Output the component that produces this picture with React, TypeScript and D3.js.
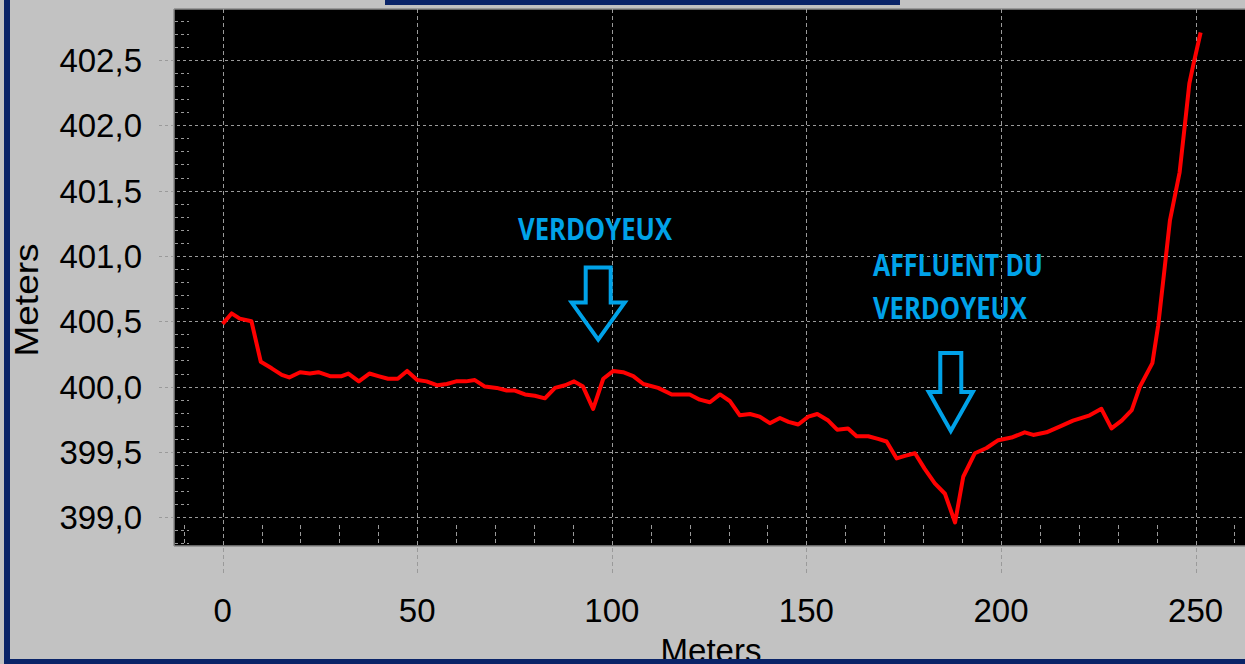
import React, { useRef, useEffect } from 'react';
import * as d3 from 'd3';

// Profile along the stream (distance in m, elevation in m)
const distances = [
  0, 2.3, 4.4, 7.4, 9.8, 12.6, 15.2, 17.1, 19.9, 22.4,
  24.6, 27.6, 30.6, 32.3, 35.0, 37.7, 40.0, 42.5, 45.0, 47.4,
  50.0, 52.4, 55.2, 57.6, 60.0, 62.5, 64.8, 67.4, 70.4, 73.0,
  75.1, 77.7, 80.2, 82.8, 85.4, 88.0, 90.3, 92.6, 95.2, 97.8,
  100.4, 102.9, 105.5, 108.1, 111.9, 115.4, 120.0, 122.6, 125.2, 127.8,
  130.3, 132.9, 135.5, 138.0, 140.6, 143.2, 145.4, 147.9, 150.5, 152.8,
  155.6, 157.9, 160.7, 162.9, 165.9, 168.4, 170.6, 173.2, 175.3, 177.9,
  180.4, 183.0, 185.6, 188.2, 190.3, 193.3, 196.3, 199.3, 202.7, 206.1,
  208.3, 211.7, 215.5, 218.5, 222.8, 225.8, 228.4, 231.0, 233.6, 235.7,
  238.9, 240.4, 242.1, 243.4, 245.9, 247.2, 248.4, 249.4, 251.3,
];

const elevations = [
  400.48, 400.56, 400.52, 400.5, 400.19, 400.14, 400.09, 400.07, 400.11, 400.1,
  400.11, 400.08, 400.08, 400.1, 400.04, 400.1, 400.08, 400.06, 400.06, 400.12,
  400.05, 400.04, 400.01, 400.02, 400.04, 400.04, 400.05, 400.0, 399.99, 399.97,
  399.97, 399.94, 399.93, 399.91, 399.99, 400.01, 400.04, 400.0, 399.83, 400.06,
  400.12, 400.11, 400.08, 400.02, 399.99, 399.94, 399.94, 399.9, 399.88, 399.94,
  399.89, 399.78, 399.79, 399.77, 399.72, 399.76, 399.73, 399.71, 399.77, 399.79,
  399.74, 399.67, 399.68, 399.62, 399.62, 399.6, 399.58, 399.45, 399.47, 399.49,
  399.37, 399.26, 399.18, 398.96, 399.31, 399.49, 399.53, 399.59, 399.61, 399.65,
  399.63, 399.65, 399.7, 399.74, 399.78, 399.83, 399.68, 399.74, 399.82, 400.0,
  400.18, 400.47, 400.92, 401.27, 401.64, 401.99, 402.32, 402.46, 402.71,
];

const xTickValues = [0, 50, 100, 150, 200, 250];
const yTickValues = [399.0, 399.5, 400.0, 400.5, 401.0, 401.5, 402.0, 402.5];
const xAxisTitle = 'Meters';
const yAxisTitle = 'Meters';

// Annotations: label anchor (left / first baseline) and arrow tip, in data units
const labelTexts = [['VERDOYEUX'], ['AFFLUENT DU', 'VERDOYEUX']];
const labelAnchors = [
  { x: 75.9, y: 401.12 },
  { x: 167.1, y: 400.85 },
];
const arrowTips = [
  { x: 96.5, y: 400.36 },
  { x: 187.1, y: 399.66 },
];

export default function App() {
  const svgRef = useRef<SVGSVGElement>(null);

  useEffect(() => {
    if (!svgRef.current) return;
    const svg = d3.select(svgRef.current);
    svg.selectAll('*').remove();

    const width = 1245;
    const height = 664;
    const plot = { left: 174, top: 9, right: 1245, bottom: 546 };
    const font = "'Liberation Sans', Arial, sans-serif";
    const gridColor = '#9a9a9a';
    const navy = '#0a2468';
    const cyan = '#00a2e8';

    const x = d3.scaleLinear().domain([-12.5, 262.7]).range([plot.left, plot.right]);
    const y = d3.scaleLinear().domain([398.78, 402.89]).range([plot.bottom, plot.top]);

    // Background
    svg.append('rect').attr('width', width).attr('height', height).attr('fill', '#c2c2c2');

    svg
      .append('rect')
      .attr('x', plot.left)
      .attr('y', plot.top)
      .attr('width', plot.right - plot.left)
      .attr('height', plot.bottom - plot.top)
      .attr('fill', '#000');

    // Frame lines
    const frame = svg.append('g').attr('stroke', '#8a8a8a').attr('stroke-width', 1.5);
    frame.append('line').attr('x1', plot.left).attr('x2', width).attr('y1', plot.top).attr('y2', plot.top);
    frame.append('line').attr('x1', plot.left).attr('x2', width).attr('y1', plot.bottom).attr('y2', plot.bottom);
    frame.append('line').attr('x1', plot.left).attr('x2', plot.left).attr('y1', plot.top).attr('y2', plot.bottom);

    // Major grid (extends outside plot as tick marks)
    svg
      .append('g')
      .selectAll('line')
      .data(xTickValues)
      .join('line')
      .attr('x1', (d) => Math.round(x(d)) + 0.5)
      .attr('x2', (d) => Math.round(x(d)) + 0.5)
      .attr('y1', plot.top)
      .attr('y2', 576)
      .attr('stroke', gridColor)
      .attr('stroke-dasharray', '4,3');

    svg
      .append('g')
      .selectAll('line')
      .data(yTickValues)
      .join('line')
      .attr('x1', 159)
      .attr('x2', plot.right)
      .attr('y1', (d) => Math.round(y(d)) + 0.5)
      .attr('y2', (d) => Math.round(y(d)) + 0.5)
      .attr('stroke', gridColor)
      .attr('stroke-dasharray', '3,3');

    // Minor ticks
    const xMinor = d3.range(-10, 261, 10).filter((d) => d % 50 !== 0);
    svg
      .append('g')
      .selectAll('line')
      .data(xMinor)
      .join('line')
      .attr('x1', (d) => Math.round(x(d)) + 0.5)
      .attr('x2', (d) => Math.round(x(d)) + 0.5)
      .attr('y1', plot.bottom - 21)
      .attr('y2', plot.bottom - 2)
      .attr('stroke', gridColor)
      .attr('stroke-dasharray', '4,3');

    const yMinor = d3
      .range(3988, 4029)
      .filter((d) => d % 5 !== 0)
      .map((d) => d / 10);
    svg
      .append('g')
      .selectAll('line')
      .data(yMinor)
      .join('line')
      .attr('x1', plot.left + 1)
      .attr('x2', plot.left + 15)
      .attr('y1', (d) => Math.round(y(d)) + 0.5)
      .attr('y2', (d) => Math.round(y(d)) + 0.5)
      .attr('stroke', gridColor)
      .attr('stroke-dasharray', '3,3');

    // Profile line
    const points = distances.map((d, i) => [d, elevations[i]] as [number, number]);
    const line = d3
      .line<[number, number]>()
      .x((d) => x(d[0]))
      .y((d) => y(d[1]));

    svg
      .append('path')
      .datum(points)
      .attr('fill', 'none')
      .attr('stroke', '#ff0000')
      .attr('stroke-width', 4)
      .attr('stroke-linejoin', 'round')
      .attr('d', line);

    // Annotation labels
    const labelWidths = [[154], [170, 154]];
    labelTexts.forEach((lines, i) => {
      lines.forEach((t, j) => {
        svg
          .append('text')
          .attr('x', x(labelAnchors[i].x))
          .attr('y', y(labelAnchors[i].y) + j * 43)
          .attr('fill', cyan)
          .attr('font-family', "'Open Sans', sans-serif")
          .attr('font-weight', 700)
          .attr('font-size', 30)
          .attr('textLength', labelWidths[i][j])
          .attr('lengthAdjust', 'spacingAndGlyphs')
          .text(t);
      });
    });

    // Hollow arrows
    const arrowSizes = [
      { shaft: 12.5, head: 26.5, headLen: 37, len: 72 },
      { shaft: 10.5, head: 22, headLen: 39, len: 78 },
    ];
    arrowTips.forEach((tip, i) => {
      const tx = x(tip.x);
      const ty = y(tip.y);
      const s = arrowSizes[i];
      const top = ty - s.len;
      const hy = ty - s.headLen;
      const path = [
        [tx - s.shaft, top],
        [tx + s.shaft, top],
        [tx + s.shaft, hy],
        [tx + s.head, hy],
        [tx, ty],
        [tx - s.head, hy],
        [tx - s.shaft, hy],
      ];
      svg
        .append('path')
        .attr('d', 'M' + path.map((p) => p.join(',')).join('L') + 'Z')
        .attr('fill', 'none')
        .attr('stroke', cyan)
        .attr('stroke-width', 4)
        .attr('stroke-linejoin', 'miter');
    });

    // Tick labels
    const fmt = (v: number) => d3.format('.1f')(v).replace('.', ',');
    svg
      .append('g')
      .selectAll('text')
      .data(yTickValues)
      .join('text')
      .attr('x', 142)
      .attr('y', (d) => y(d) + 12)
      .attr('text-anchor', 'end')
      .attr('font-family', font)
      .attr('font-size', 33)
      .attr('fill', '#000')
      .text(fmt);

    svg
      .append('g')
      .selectAll('text')
      .data(xTickValues)
      .join('text')
      .attr('x', (d) => x(d))
      .attr('y', 622)
      .attr('text-anchor', 'middle')
      .attr('font-family', font)
      .attr('font-size', 33)
      .attr('fill', '#000')
      .text((d) => String(d));

    // Axis titles
    svg
      .append('text')
      .attr('x', 711)
      .attr('y', 662)
      .attr('text-anchor', 'middle')
      .attr('font-family', font)
      .attr('font-size', 33)
      .attr('fill', '#000')
      .text(xAxisTitle);

    svg
      .append('text')
      .attr('transform', 'translate(38,300) rotate(-90)')
      .attr('text-anchor', 'middle')
      .attr('font-family', font)
      .attr('font-size', 33)
      .attr('textLength', 113)
      .attr('lengthAdjust', 'spacingAndGlyphs')
      .attr('fill', '#000')
      .text(yAxisTitle);

    // Window frame
    svg.append('rect').attr('x', 385).attr('y', 0).attr('width', 515).attr('height', 5).attr('fill', navy);
    svg.append('rect').attr('x', 4).attr('y', 0).attr('width', 6).attr('height', height).attr('fill', navy);
    svg.append('rect').attr('x', 4).attr('y', 659).attr('width', width - 4).attr('height', 5).attr('fill', navy);
  }, []);

  return (
    <svg
      ref={svgRef}
      width={1245}
      height={664}
      style={{ position: 'absolute', left: 0, top: 0, display: 'block' }}
    ></svg>
  );
}
